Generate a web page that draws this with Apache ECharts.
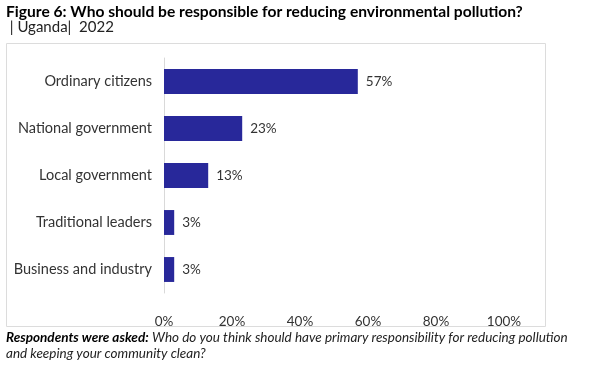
<!DOCTYPE html>
<html><head><meta charset="utf-8">
<script src="https://cdn.jsdelivr.net/npm/echarts@6/dist/echarts.min.js"></script>
<style>html,body{margin:0;padding:0;background:#fff}#c{width:602px;height:370px}</style>
</head><body><div id="c"></div>
<script>
const categories = ["Ordinary citizens","National government","Local government","Traditional leaders","Business and industry"];
const values = [57, 23, 13, 3, 3];
const xTicks = [0, 20, 40, 60, 80, 100];

const FONT = "'Lato', 'Open Sans', sans-serif";
const chart = echarts.init(document.getElementById('c'), null, {renderer:'canvas'});
chart.setOption({
  animation:false,
  backgroundColor:'#fff',
  graphic:[
    {type:'rect', shape:{x:6.5,y:43.5,width:539,height:283}, style:{fill:'none', stroke:'#dcdcdc', lineWidth:1}, z:-1},
    {type:'text', left:6, top:4, style:{text:'Figure 6: Who should be responsible for reducing environmental pollution?', font:"bold 15.6px "+FONT, fill:'#000'}},
    {type:'text', left:6, top:20, style:{text:' | Uganda|  2022', font:"15px "+FONT, fill:'#222'}},
    {type:'text', left:6, top:331, style:{
      rich:{b:{font:"bold italic 13.5px "+FONT, fill:'#000', lineHeight:16}, i:{font:"italic 13.5px "+FONT, fill:'#222', lineHeight:16}},
      text:'{b|Respondents were asked:} {i|Who do you think should have primary responsibility for reducing pollution}\n{i|and keeping your community clean?}'
    }}
  ],
  grid:{left:164, right:98, top:58, bottom:77, containLabel:false},
  xAxis:{type:'value', min:0, max:100, interval:20,
    axisLine:{show:false}, axisTick:{show:false}, splitLine:{show:false},
    axisLabel:{formatter:v=>v+'%', color:'#333', fontSize:13.5, fontFamily:FONT, margin:22}
  },
  yAxis:{type:'category', data:categories, inverse:true,
    axisLine:{show:true, lineStyle:{color:'#d9d9d9'}}, axisTick:{show:false},
    axisLabel:{color:'#333', fontSize:14.5, fontFamily:FONT, margin:12}
  },
  series:[{type:'bar', data:values, barCategoryGap:'47%',
    itemStyle:{color:'#28289a'},
    label:{show:true, position:'right', formatter:p=>p.value+'%', color:'#333', fontSize:13.5, fontFamily:FONT, distance:8}
  }]
});
</script></body></html>
